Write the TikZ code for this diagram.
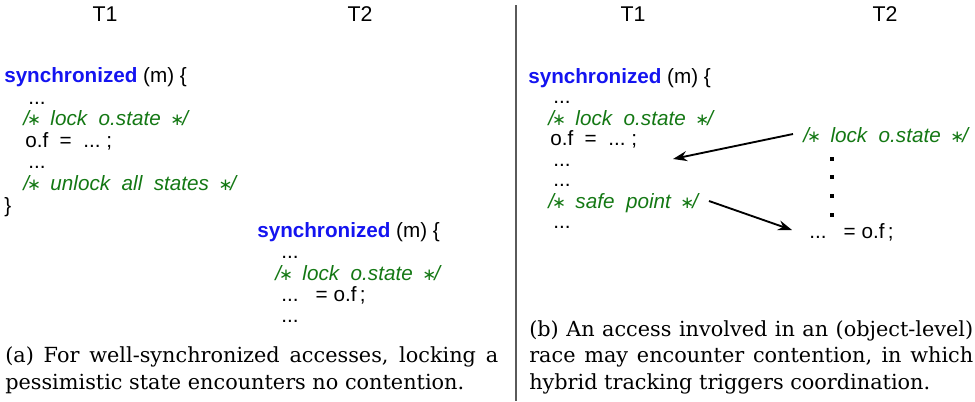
\documentclass[tikz,border=0pt]{standalone}
\usepackage{fontspec}
\setmainfont{DejaVu Serif}
\newfontfamily\codefont{Liberation Sans}
\newfontfamily\starfont{DejaVu Sans}
\usetikzlibrary{arrows.meta}
\definecolor{cblue}{RGB}{20,20,240}
\definecolor{cgreen}{RGB}{20,120,20}
\definecolor{sepgray}{RGB}{90,90,90}
\newcommand{\kw}[1]{\textcolor{cblue}{\bfseries #1}}
\newcommand{\cstar}{\makebox[7.5pt]{\starfont\fontsize{12.5}{15}\selectfont\char"2217}}
\newcommand{\cm}[1]{/\cstar\ \ #1\ \ \cstar/}
\tikzset{
  code/.style={anchor=base west, inner sep=0pt, font=\codefont\fontsize{15.5}{18}\selectfont},
  cmt/.style={anchor=base west, inner sep=0pt, text=cgreen, font=\codefont\itshape\fontsize{15.5}{18}\selectfont},
  thr/.style={anchor=base, inner sep=0pt, font=\codefont\fontsize{16}{19}\selectfont},
  capline/.style={anchor=base west, inner sep=0pt, font=\fontsize{15.6}{18}\selectfont},
  arr/.style={-{Stealth[length=10.5pt,width=7.5pt]}, line width=1.4pt},
  dotsq/.style={fill=black, draw=none, minimum size=2.4pt, inner sep=0pt, rectangle}
}
\begin{document}
\begin{tikzpicture}[x=0.75pt,y=-0.75pt]
\useasboundingbox (0,0) rectangle (975,401);
% separator
\draw[sepgray, line width=1.1pt] (516,5) -- (516,401);
% thread labels
\node[thr] (la) at (105,21) {T1};
\node[thr] (lb) at (360,21) {T2};
\node[thr] (lc) at (633,21) {T1};
\node[thr] (ld) at (885,21) {T2};
% left panel, T1
\node[code] (a1) at (4,82) {\kw{synchronized} (m) \{};
\node[code] (a2) at (28,104) {...};
\node[cmt]  (a3) at (23,125) {\cm{lock\ \ o.state}};
\node[code] (a4) at (25,147) {o.f\ \ =\ \ ...\ ;};
\node[code] (a5) at (28,168) {...};
\node[cmt]  (a6) at (23,190) {\cm{unlock\ \ all\ \ states}};
\node[code] (a7) at (4,212) {\}};
% left panel, T2
\node[code] (b1) at (257,237) {\kw{synchronized} (m) \{};
\node[code] (b2) at (281,258) {...};
\node[cmt]  (b3) at (275,280) {\cm{lock\ \ o.state}};
\node[code] (b4) at (281,301) {...\ \ \ =\ o.f\,;};
\node[code] (b5) at (281,322) {...};
% right panel, T1
\node[code] (c1) at (528,83) {\kw{synchronized} (m) \{};
\node[code] (c2) at (553,103) {...};
\node[cmt]  (c3) at (548,125) {\cm{lock\ \ o.state}};
\node[code] (c4) at (550,145) {o.f\ \ =\ \ ...\ ;};
\node[code] (c5) at (553,166) {...};
\node[code] (c6) at (553,186) {...};
\node[cmt]  (c7) at (548,208) {\cm{safe\ \ point}};
\node[code] (c8) at (553,228) {...};
% right panel, T2
\node[cmt]  (d1) at (803,142) {\cm{lock\ \ o.state}};
\node[dotsq] (q1) at (832,159) {};
\node[dotsq] (q2) at (832,177) {};
\node[dotsq] (q3) at (832,196) {};
\node[dotsq] (q4) at (832,215) {};
\node[code] (d2) at (809,238) {...\ \ \ =\ o.f\,;};
% arrows
\coordinate (s1) at (793,134);
\coordinate (e1) at (673,159);
\coordinate (s2) at (709,201);
\coordinate (e2) at (792,230);
\draw[arr] (s1) -- (e1);
\draw[arr] (s2) -- (e2);
% captions
\node[capline] (ca1) at (5,362) {\hbox to 369.75pt{(a) For well-synchronized accesses, locking a}};
\node[capline] (ca2) at (5,389) {pessimistic state encounters no contention.};
\node[capline] (cb1) at (529,336) {\hbox to 333pt{(b) An access involved in an (object-level)}};
\node[capline] (cb2) at (529,362) {\hbox to 333pt{race may encounter contention, in which}};
\node[capline] (cb3) at (529,389) {hybrid tracking triggers coordination.};
\end{tikzpicture}
\end{document}
